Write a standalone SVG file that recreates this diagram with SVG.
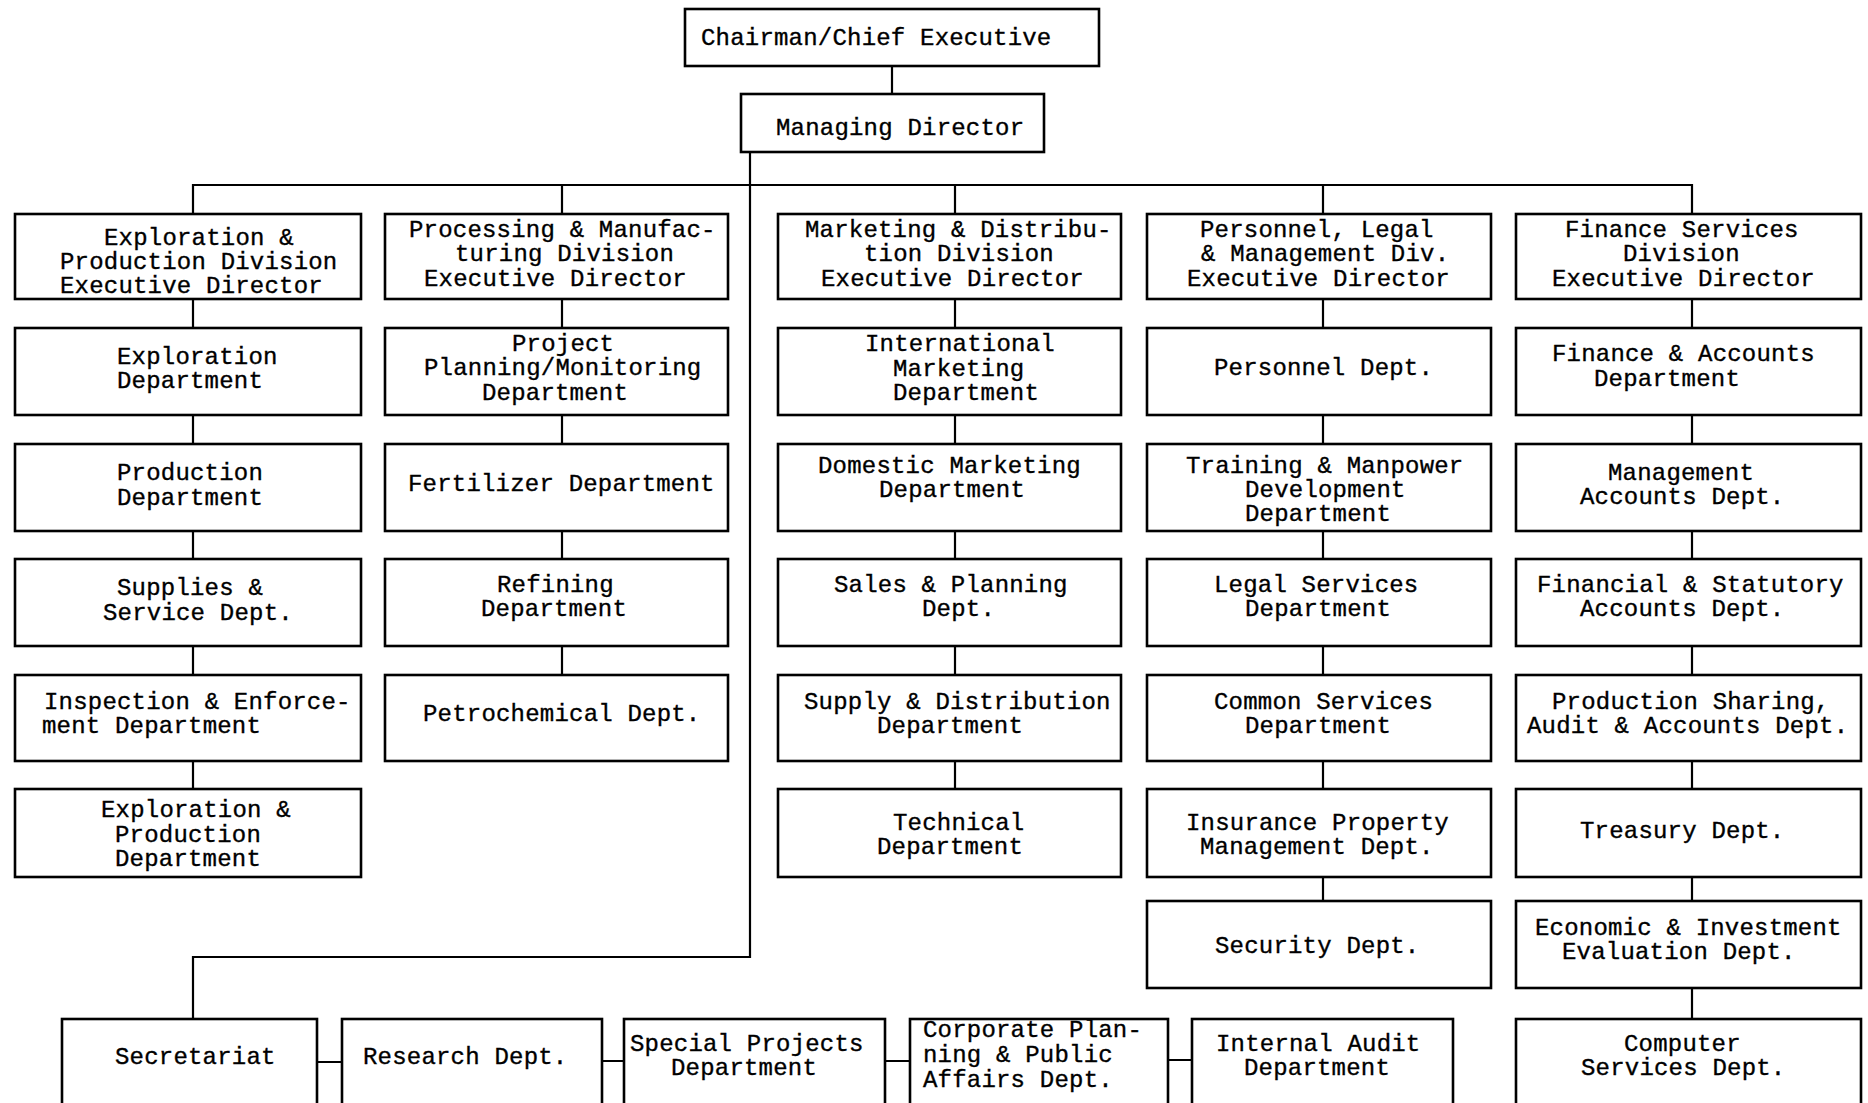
<svg xmlns="http://www.w3.org/2000/svg" width="1868" height="1103" viewBox="0 0 1868 1103">
<style>
.box{fill:#fff;stroke:#000;stroke-width:2.6}
.t{font-family:"Liberation Mono","DejaVu Sans Mono",monospace;font-size:24px;letter-spacing:0.2px;fill:#000;stroke:#000;stroke-width:0.35}
.c{fill:none;stroke:#000;stroke-width:2.2}
</style>
<rect x="0" y="0" width="1868" height="1103" fill="#fff"/>
<g id="connectors">
<path class="c" d="M892,66V94"/>
<path class="c" d="M193,214V185H1692V214M562,185V214M955,185V214M1323,185V214"/>
<path class="c" d="M750,152V957H193V1019"/>
<path class="c" d="M193,299V328M193,415V444M193,531V559M193,646V675M193,761V789"/>
<path class="c" d="M562,299V328M562,415V444M562,531V559M562,646V675"/>
<path class="c" d="M955,299V328M955,415V444M955,531V559M955,646V675M955,761V789"/>
<path class="c" d="M1323,299V328M1323,415V444M1323,531V559M1323,646V675M1323,761V789M1323,877V901"/>
<path class="c" d="M1692,299V328M1692,415V444M1692,531V559M1692,646V675M1692,761V789M1692,877V901M1692,988V1019"/>
<path class="c" d="M317,1062H342M602,1061H624M885,1061H910M1168,1060H1192"/>
</g>
<g id="chairman"><rect class="box" x="685" y="9" width="414" height="57"/><text class="t" x="701" y="45">Chairman/Chief Executive</text></g>
<g id="md"><rect class="box" x="741" y="94" width="303" height="58"/><text class="t" x="776" y="135">Managing Director</text></g>

<g id="c1r0"><rect class="box" x="15" y="214" width="346" height="85"/><text class="t"><tspan x="104" y="245">Exploration &amp;</tspan><tspan x="60" y="269">Production Division</tspan><tspan x="60" y="293">Executive Director</tspan></text></g>
<g id="c1r1"><rect class="box" x="15" y="328" width="346" height="87"/><text class="t"><tspan x="117" y="364">Exploration</tspan><tspan x="117" y="388">Department</tspan></text></g>
<g id="c1r2"><rect class="box" x="15" y="444" width="346" height="87"/><text class="t"><tspan x="117" y="480">Production</tspan><tspan x="117" y="505">Department</tspan></text></g>
<g id="c1r3"><rect class="box" x="15" y="559" width="346" height="87"/><text class="t"><tspan x="117" y="595">Supplies &amp;</tspan><tspan x="103" y="620">Service Dept.</tspan></text></g>
<g id="c1r4"><rect class="box" x="15" y="675" width="346" height="86"/><text class="t"><tspan x="44" y="709">Inspection &amp; Enforce-</tspan><tspan x="42" y="733">ment Department</tspan></text></g>
<g id="c1r5"><rect class="box" x="15" y="789" width="346" height="88"/><text class="t"><tspan x="101" y="817">Exploration &amp;</tspan><tspan x="115" y="842">Production</tspan><tspan x="115" y="866">Department</tspan></text></g>

<g id="c2r0"><rect class="box" x="385" y="214" width="343" height="85"/><text class="t"><tspan x="409" y="237">Processing &amp; Manufac-</tspan><tspan x="455" y="261">turing Division</tspan><tspan x="424" y="286">Executive Director</tspan></text></g>
<g id="c2r1"><rect class="box" x="385" y="328" width="343" height="87"/><text class="t"><tspan x="512" y="351">Project</tspan><tspan x="424" y="375">Planning/Monitoring</tspan><tspan x="482" y="400">Department</tspan></text></g>
<g id="c2r2"><rect class="box" x="385" y="444" width="343" height="87"/><text class="t" x="408" y="491">Fertilizer Department</text></g>
<g id="c2r3"><rect class="box" x="385" y="559" width="343" height="87"/><text class="t"><tspan x="497" y="592">Refining</tspan><tspan x="481" y="616">Department</tspan></text></g>
<g id="c2r4"><rect class="box" x="385" y="675" width="343" height="86"/><text class="t" x="423" y="721">Petrochemical Dept.</text></g>

<g id="c3r0"><rect class="box" x="778" y="214" width="343" height="85"/><text class="t"><tspan x="805" y="237">Marketing &amp; Distribu-</tspan><tspan x="864" y="261">tion Division</tspan><tspan x="821" y="286">Executive Director</tspan></text></g>
<g id="c3r1"><rect class="box" x="778" y="328" width="343" height="87"/><text class="t"><tspan x="865" y="351">International</tspan><tspan x="893" y="376">Marketing</tspan><tspan x="893" y="400">Department</tspan></text></g>
<g id="c3r2"><rect class="box" x="778" y="444" width="343" height="87"/><text class="t"><tspan x="818" y="473">Domestic Marketing</tspan><tspan x="879" y="497">Department</tspan></text></g>
<g id="c3r3"><rect class="box" x="778" y="559" width="343" height="87"/><text class="t"><tspan x="834" y="592">Sales &amp; Planning</tspan><tspan x="922" y="616">Dept.</tspan></text></g>
<g id="c3r4"><rect class="box" x="778" y="675" width="343" height="86"/><text class="t"><tspan x="804" y="709">Supply &amp; Distribution</tspan><tspan x="877" y="733">Department</tspan></text></g>
<g id="c3r5"><rect class="box" x="778" y="789" width="343" height="88"/><text class="t"><tspan x="893" y="830">Technical</tspan><tspan x="877" y="854">Department</tspan></text></g>

<g id="c4r0"><rect class="box" x="1147" y="214" width="344" height="85"/><text class="t"><tspan x="1200" y="237">Personnel, Legal</tspan><tspan x="1201" y="261">&amp; Management Div.</tspan><tspan x="1187" y="286">Executive Director</tspan></text></g>
<g id="c4r1"><rect class="box" x="1147" y="328" width="344" height="87"/><text class="t" x="1214" y="375">Personnel Dept.</text></g>
<g id="c4r2"><rect class="box" x="1147" y="444" width="344" height="87"/><text class="t"><tspan x="1186" y="473">Training &amp; Manpower</tspan><tspan x="1245" y="497">Development</tspan><tspan x="1245" y="521">Department</tspan></text></g>
<g id="c4r3"><rect class="box" x="1147" y="559" width="344" height="87"/><text class="t"><tspan x="1214" y="592">Legal Services</tspan><tspan x="1245" y="616">Department</tspan></text></g>
<g id="c4r4"><rect class="box" x="1147" y="675" width="344" height="86"/><text class="t"><tspan x="1214" y="709">Common Services</tspan><tspan x="1245" y="733">Department</tspan></text></g>
<g id="c4r5"><rect class="box" x="1147" y="789" width="344" height="88"/><text class="t"><tspan x="1186" y="830">Insurance Property</tspan><tspan x="1200" y="854">Management Dept.</tspan></text></g>
<g id="c4r6"><rect class="box" x="1147" y="901" width="344" height="87"/><text class="t" x="1215" y="953">Security Dept.</text></g>

<g id="c5r0"><rect class="box" x="1516" y="214" width="345" height="85"/><text class="t"><tspan x="1565" y="237">Finance Services</tspan><tspan x="1623" y="261">Division</tspan><tspan x="1552" y="286">Executive Director</tspan></text></g>
<g id="c5r1"><rect class="box" x="1516" y="328" width="345" height="87"/><text class="t"><tspan x="1552" y="361">Finance &amp; Accounts</tspan><tspan x="1594" y="386">Department</tspan></text></g>
<g id="c5r2"><rect class="box" x="1516" y="444" width="345" height="87"/><text class="t"><tspan x="1608" y="480">Management</tspan><tspan x="1580" y="504">Accounts Dept.</tspan></text></g>
<g id="c5r3"><rect class="box" x="1516" y="559" width="345" height="87"/><text class="t"><tspan x="1537" y="592">Financial &amp; Statutory</tspan><tspan x="1580" y="616">Accounts Dept.</tspan></text></g>
<g id="c5r4"><rect class="box" x="1516" y="675" width="345" height="86"/><text class="t"><tspan x="1552" y="709">Production Sharing,</tspan><tspan x="1527" y="733">Audit &amp; Accounts Dept.</tspan></text></g>
<g id="c5r5"><rect class="box" x="1516" y="789" width="345" height="88"/><text class="t" x="1580" y="838">Treasury Dept.</text></g>
<g id="c5r6"><rect class="box" x="1516" y="901" width="345" height="87"/><text class="t"><tspan x="1535" y="935">Economic &amp; Investment</tspan><tspan x="1562" y="959">Evaluation Dept.</tspan></text></g>
<g id="c5r7"><rect class="box" x="1516" y="1019" width="345" height="100"/><text class="t"><tspan x="1624" y="1051">Computer</tspan><tspan x="1581" y="1075">Services Dept.</tspan></text></g>

<g id="secretariat"><rect class="box" x="62" y="1019" width="255" height="100"/><text class="t" x="115" y="1064">Secretariat</text></g>
<g id="research"><rect class="box" x="342" y="1019" width="260" height="100"/><text class="t" x="363" y="1064">Research Dept.</text></g>
<g id="special"><rect class="box" x="624" y="1019" width="261" height="100"/><text class="t"><tspan x="630" y="1051">Special Projects</tspan><tspan x="671" y="1075">Department</tspan></text></g>
<g id="corporate"><rect class="box" x="910" y="1019" width="258" height="100"/><text class="t"><tspan x="923" y="1037">Corporate Plan-</tspan><tspan x="923" y="1062">ning &amp; Public</tspan><tspan x="923" y="1087">Affairs Dept.</tspan></text></g>
<g id="audit"><rect class="box" x="1192" y="1019" width="261" height="100"/><text class="t"><tspan x="1216" y="1051">Internal Audit</tspan><tspan x="1244" y="1075">Department</tspan></text></g>
</svg>
